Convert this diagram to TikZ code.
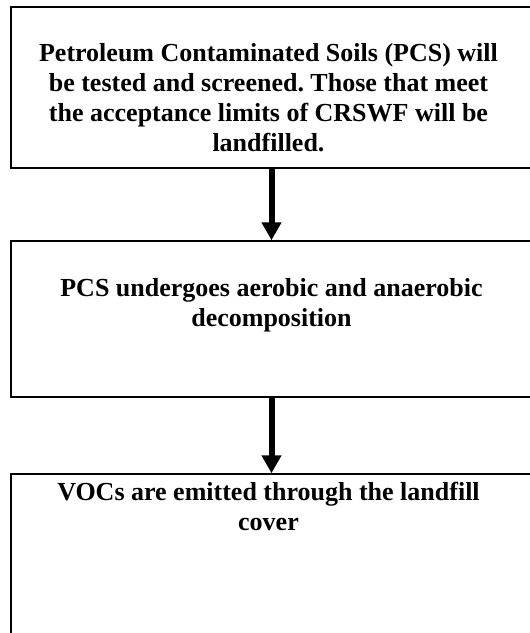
\documentclass[tikz,border=0pt]{standalone}
\usepackage{fontspec}
\setmainfont{Liberation Serif}
\usepackage{tikz}
\usetikzlibrary{arrows.meta,positioning}
\frenchspacing

\begin{document}
\begin{tikzpicture}[x=1pt,y=1pt,
                    every path/.style={>={Triangle[width=19pt,length=18pt]}},
                    box/.style={draw,line width=1.5pt,minimum width=521pt,inner sep=0pt},
                    txt/.style={font=\bfseries\fontsize{26}{30}\selectfont,align=center,inner sep=0pt},
                    flow/.style={->,line width=6pt}]
  \useasboundingbox (0,0) rectangle (530,-633);
  \clip (0,0) rectangle (530,-633);
  % boxes run past the right and bottom edges
  \node[box,minimum height=161pt] (box1) at (271.5,-87.5) {};
  \node[box,minimum height=156pt] (box2) at (271.5,-319)  {};
  \node[box,minimum height=170pt] (box3) at (271.5,-559)  {};
  \node[txt,below=37pt of box1.north,xshift=-3pt] (lbl1) {Petroleum Contaminated Soils (PCS) will\\
    be tested and screened. Those that meet\\
    the acceptance limits of CRSWF will be\\
    landfilled.};
  \node[txt,below=38pt of box2.north] (lbl2) {PCS undergoes aerobic and anaerobic\\
    decomposition};
  \node[txt,below=9pt of box3.north,xshift=-3pt]  (lbl3) {VOCs are emitted through the landfill\\
    cover};
  \draw[flow] (box1.south) -- (box2.north);
  \draw[flow] (box2.south) -- (box3.north);
\end{tikzpicture}
\end{document}
